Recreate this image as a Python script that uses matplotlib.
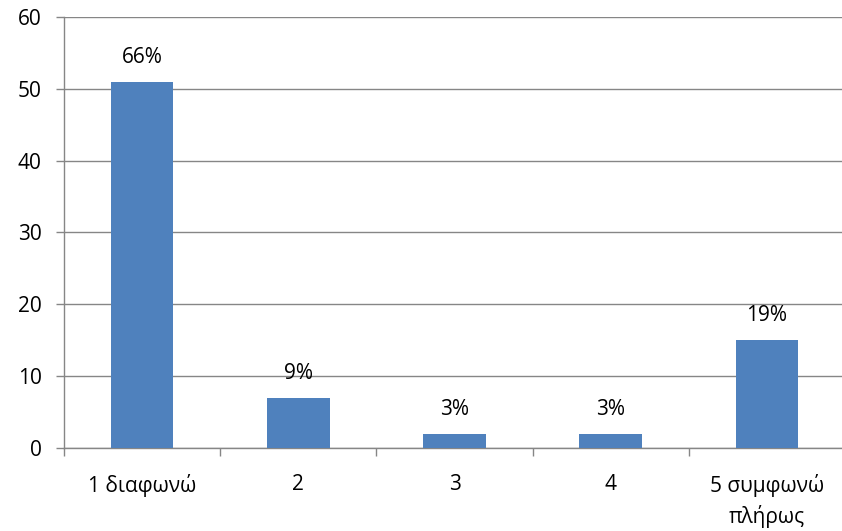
import matplotlib.pyplot as plt
import numpy as np

categories = ['1 διαφωνώ', '2', '3', '4', '5 συμφωνώ\nπλήρως']
counts = [51, 7, 2, 2, 15]
percent_labels = ['66%', '9%', '3%', '3%', '19%']

plt.rcParams['font.family'] = ['Open Sans', 'DejaVu Sans']
fs = 15

fig = plt.figure(figsize=(8.42, 5.31), dpi=100)
ax = fig.add_axes([0.076, 0.1563, 0.9276, 0.8117])

x = np.arange(len(categories))
bars = ax.bar(x, counts, width=0.4, color='#4F81BD', zorder=3)

for b, lab in zip(bars, percent_labels):
    ax.annotate(lab, (b.get_x() + b.get_width() / 2, b.get_height()),
                xytext=(0, 10), textcoords='offset points',
                ha='center', va='bottom', fontsize=fs)

ax.set_xlim(-0.5, len(categories) - 0.5)
ax.set_ylim(0, 60)
ax.set_yticks(range(0, 61, 10))
ax.yaxis.grid(True, color='#868686', linewidth=1, zorder=0)

ax.set_xticks(x)
ax.set_xticklabels(categories, fontsize=fs, linespacing=1.45)
ax.tick_params(axis='x', which='major', length=0, pad=19)
ax.set_xticks(np.arange(-0.5, len(categories), 1), minor=True)
ax.tick_params(axis='x', which='minor', length=6, color='#868686', width=1)
ax.tick_params(axis='y', length=6, color='#868686', width=1, labelsize=fs, pad=10)

for s in ['top', 'right']:
    ax.spines[s].set_visible(False)
for s in ['left', 'bottom']:
    ax.spines[s].set_color('#868686')
    ax.spines[s].set_linewidth(1)

fig.savefig('out.png', dpi=100)
